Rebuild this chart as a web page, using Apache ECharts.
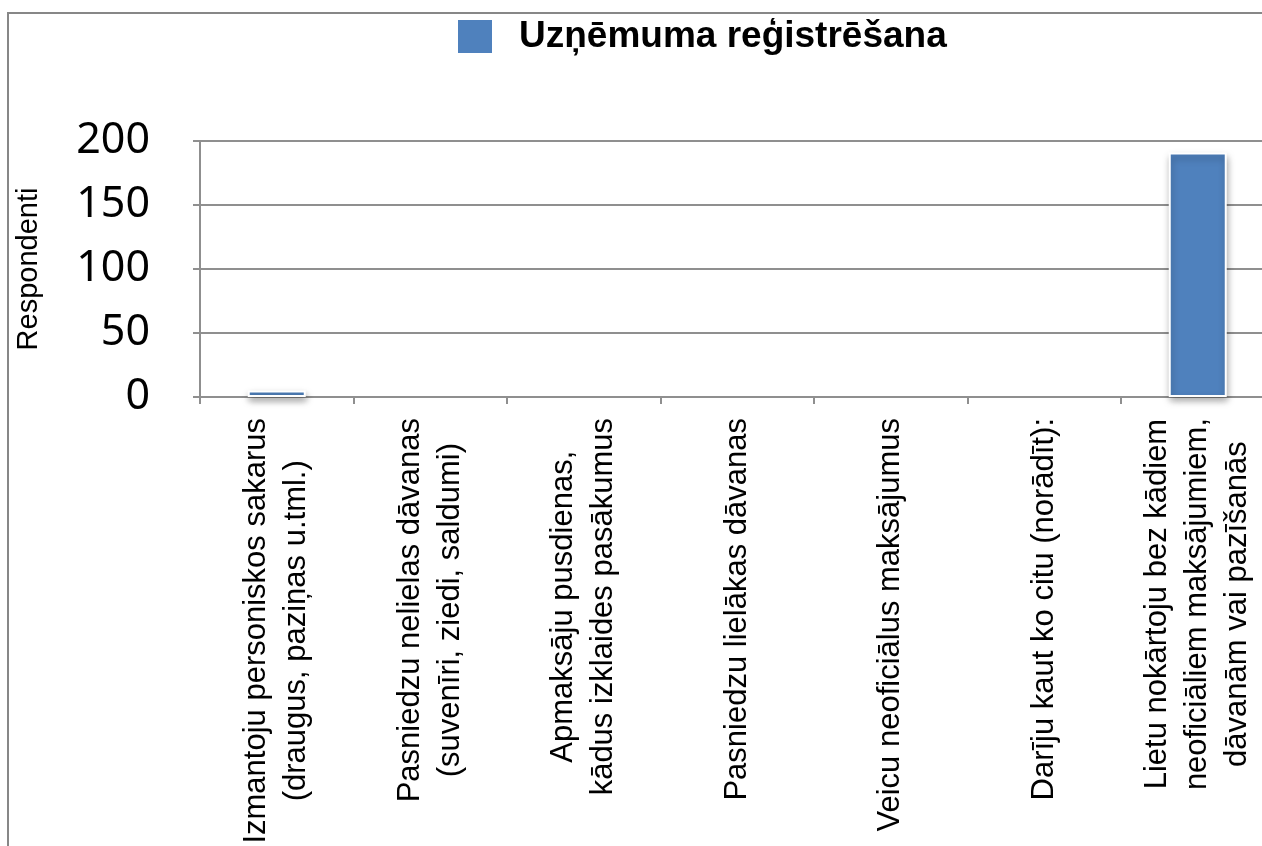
<!DOCTYPE html>
<html>
<head>
<meta charset="utf-8">
<script src="https://cdn.jsdelivr.net/npm/echarts@6/dist/echarts.min.js"></script>
<style>
  html, body { margin: 0; padding: 0; background: #fff; }
  #chart { width: 1262px; height: 846px; position: relative; }
  .frame {
    position: absolute; left: 7px; top: 12px; width: 1300px; height: 900px;
    border-left: 2px solid #878787; border-top: 2px solid #878787;
    pointer-events: none;
  }
</style>
</head>
<body>
<div class="frame"></div>
<div id="chart"></div>
<script>
const seriesName = 'Uzņēmuma reģistrēšana'
const categories = [
  'Izmantoju personiskos sakarus\n(draugus, paziņas u.tml.)',
  'Pasniedzu nelielas dāvanas\n(suvenīri, ziedi, saldumi)',
  'Apmaksāju pusdienas,\nkādus izklaides pasākumus',
  'Pasniedzu lielākas dāvanas',
  'Veicu neoficiālus maksājumus',
  'Darīju kaut ko citu (norādīt):',
  'Lietu nokārtoju bez kādiem\nneoficiāliem maksājumiem,\ndāvanām vai pazīšanās',
]
const values = [5, 0, 0, 0, 0, 0, 191]
const yTicks = { min: 0, max: 200, interval: 50 }

const gridColor = '#8f8f8f'
const chart = echarts.init(document.getElementById('chart'))

// zero bars would otherwise leave a white border + shadow stub on the axis
const barData = values.map((v) =>
  v === 0 ? { value: v, itemStyle: { borderWidth: 0, shadowColor: 'transparent', shadowBlur: 0 } } : v
)

chart.setOption({
  animation: false,
  legend: {
    left: 456,
    top: 18,
    padding: 0,
    icon: 'rect',
    itemWidth: 36,
    itemHeight: 35,
    data: [seriesName],
    textStyle: {
      fontFamily: 'Liberation Sans',
      fontSize: 37,
      fontWeight: 'bold',
      color: '#000',
      padding: [0, 0, 0, 21],
    },
  },
  grid: { left: 200, right: -12.5, top: 141, bottom: 449, outerBoundsMode: 'none', containLabel: false },
  xAxis: {
    type: 'category',
    data: categories,
    axisLine: { lineStyle: { color: gridColor, width: 2 } },
    axisTick: { show: true, length: 7, lineStyle: { color: gridColor, width: 2 } },
    axisLabel: {
      interval: 0,
      rotate: 90,
      margin: 21,
      color: '#000',
      fontFamily: 'Liberation Sans',
      fontSize: 31,
      lineHeight: 40,
      formatter: (value) => value.split('\n').map((line) => `{c|${line}}`).join('\n'),
      rich: {
        c: { align: 'center', fontFamily: 'Liberation Sans', fontSize: 31, lineHeight: 40, color: '#000' },
      },
    },
  },
  yAxis: {
    type: 'value',
    min: yTicks.min,
    max: yTicks.max,
    interval: yTicks.interval,
    name: 'Respondenti',
    nameLocation: 'middle',
    nameGap: 157,
    nameTextStyle: { fontFamily: 'Liberation Sans', fontSize: 29, color: '#000' },
    axisLine: { show: true, lineStyle: { color: gridColor, width: 2 } },
    axisTick: { show: true, length: 7, lineStyle: { color: gridColor, width: 2 } },
    axisLabel: { margin: 50, fontFamily: 'Noto Sans', fontSize: 43, color: '#000' },
    splitLine: { lineStyle: { color: gridColor, width: 2 } },
  },
  series: [
    {
      name: seriesName,
      type: 'bar',
      data: barData,
      barWidth: 58,
      itemStyle: {
        color: '#4f81bd',
        borderColor: '#ffffff',
        borderWidth: 2,
        shadowColor: 'rgba(0, 0, 0, 0.35)',
        shadowBlur: 7,
        shadowOffsetX: 1,
        shadowOffsetY: 4,
      },
    },
  ],
})
</script>
</body>
</html>
